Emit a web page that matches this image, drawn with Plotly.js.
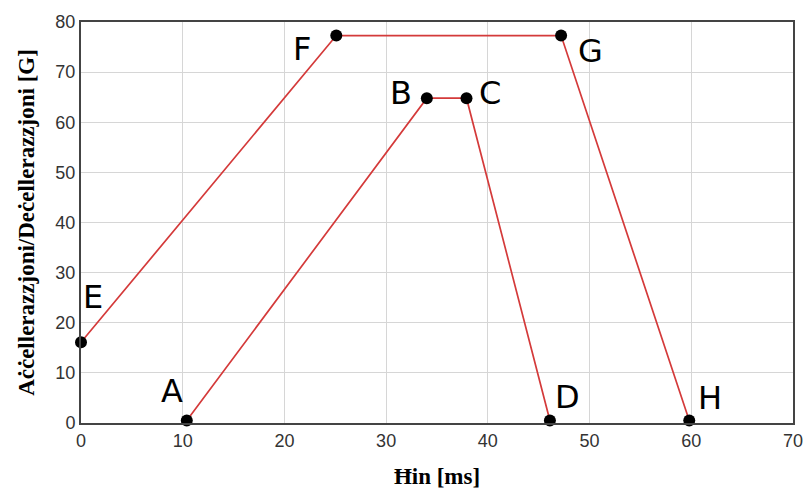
<!DOCTYPE html>
<html>
<head>
<meta charset="utf-8">
<script src="https://cdn.plot.ly/plotly-3.0.1.min.js"></script>
<style>
    html, body { margin: 0; padding: 0; background: #fff; }
    #chart { width: 806px; height: 493px; }
</style>
</head>
<body>
<div id="chart"></div>
<script>
// Curva interna A-B-C-D
const innerLabels = ["A", "B", "C", "D"];
const innerTime = [10.4, 34.0, 37.9, 46.1];
const innerAccel = [0.5, 64.8, 64.8, 0.5];

// Curva esterna E-F-G-H
const outerLabels = ["E", "F", "G", "H"];
const outerTime = [0, 25.1, 47.2, 59.8];
const outerAccel = [16.1, 77.3, 77.3, 0.5];

const xTicks = [0, 10, 20, 30, 40, 50, 60, 70];
const yTicks = [0, 10, 20, 30, 40, 50, 60, 70, 80];

// spostamento delle lettere rispetto al punto (pixel)
const labelShift = {
    A: [-15, 29], B: [-26, 5], C: [23, 5], D: [18, 23],
    E: [12, 45], F: [-34, -13], G: [29, -15], H: [21, 22]
};

function makeTrace(xs, ys) {
    return {
        x: xs,
        y: ys,
        type: "scatter",
        mode: "lines+markers",
        line: { color: "#d43a3a", width: 1.7 },
        marker: { color: "#000", size: 12 },
        cliponaxis: false,
        hoverinfo: "skip"
    };
}

function makeLabels(labels, xs, ys) {
    return labels.map((label, i) => ({
        x: xs[i],
        y: ys[i],
        text: label,
        showarrow: false,
        xshift: labelShift[label][0],
        yshift: labelShift[label][1],
        font: { family: "DejaVu Sans", size: 32, color: "#000" }
    }));
}

const layout = {
    width: 806,
    height: 493,
    margin: { l: 81, r: 13, t: 22, b: 70 },
    paper_bgcolor: "#fff",
    plot_bgcolor: "#fff",
    showlegend: false,
    font: { family: "Liberation Sans", size: 18, color: "#333" },
    xaxis: {
        range: [0, 70],
        tickvals: xTicks,
        showgrid: true,
        gridcolor: "#d6d6d6",
        gridwidth: 1.2,
        zeroline: false,
        showline: true,
        linecolor: "#444",
        linewidth: 2,
        mirror: true,
        ticks: "",
        tickfont: { family: "Liberation Sans", size: 18, color: "#333" },
        title: {
            text: "Ħin [ms]",
            font: { family: "Liberation Serif", size: 23, color: "#000", weight: "bold" },
            standoff: 18
        }
    },
    yaxis: {
        range: [0, 80],
        tickvals: yTicks,
        showgrid: true,
        gridcolor: "#d6d6d6",
        gridwidth: 1.2,
        zeroline: false,
        showline: true,
        linecolor: "#444",
        linewidth: 2,
        mirror: true,
        ticks: "",
        tickfont: { family: "Liberation Sans", size: 18, color: "#333" },
        title: {
            text: "Aċċellerazzjoni/Deċellerazzjoni [G]",
            font: { family: "Liberation Serif", size: 23, color: "#000", weight: "bold" },
            standoff: 14
        }
    },
    annotations: makeLabels(innerLabels, innerTime, innerAccel)
        .concat(makeLabels(outerLabels, outerTime, outerAccel))
};

Plotly.newPlot(
    "chart",
    [makeTrace(innerTime, innerAccel), makeTrace(outerTime, outerAccel)],
    layout,
    { displayModeBar: false, staticPlot: true }
);
</script>
</body>
</html>
